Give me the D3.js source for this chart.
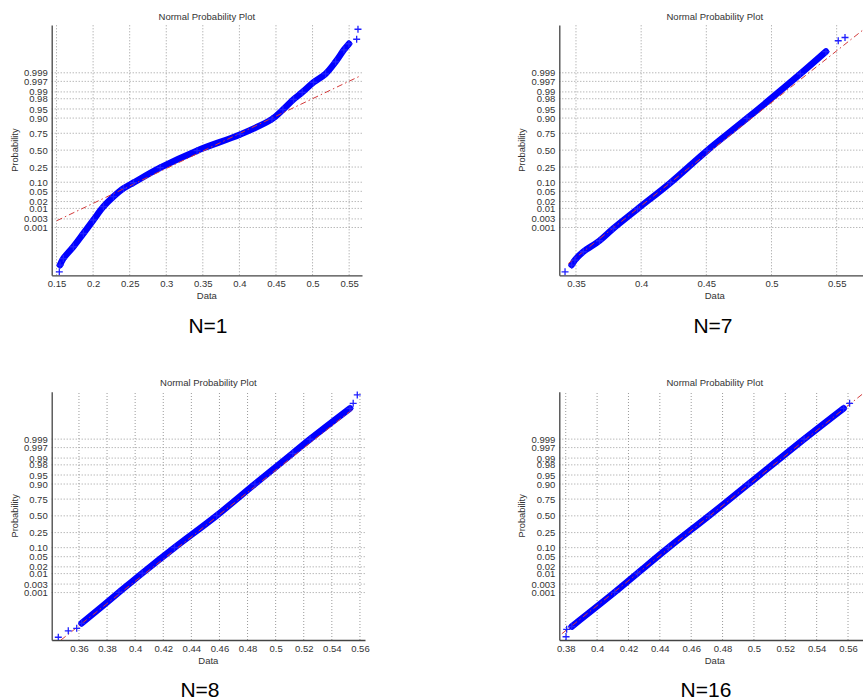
<!DOCTYPE html>
<html><head><meta charset="utf-8">
<script src="https://cdn.jsdelivr.net/npm/d3@7"></script>
<style>
body{margin:0;background:#fff;}
text{font-family:Arial,"Liberation Sans",sans-serif;}
</style>
</head><body>
<svg id="chart" width="863" height="700"></svg>
<script>
// ---- data ----
const probTicks  = [0.001,0.003,0.01,0.02,0.05,0.10,0.25,0.50,0.75,0.90,0.95,0.98,0.99,0.997,0.999];
const probLabels = ["0.001","0.003","0.01","0.02","0.05","0.10","0.25","0.50","0.75","0.90","0.95","0.98","0.99","0.997","0.999"];

const xTicksN1  = [0.15,0.2,0.25,0.3,0.35,0.4,0.45,0.5,0.55];
const xLabelsN1 = ["0.15","0.2","0.25","0.3","0.35","0.4","0.45","0.5","0.55"];
const xTicksN7  = [0.35,0.4,0.45,0.5,0.55];
const xLabelsN7 = ["0.35","0.4","0.45","0.5","0.55"];
const xTicksN8  = [0.36,0.38,0.4,0.42,0.44,0.46,0.48,0.5,0.52,0.54,0.56];
const xLabelsN8 = ["0.36","0.38","0.4","0.42","0.44","0.46","0.48","0.5","0.52","0.54","0.56"];
const xTicksN16  = [0.38,0.4,0.42,0.44,0.46,0.48,0.5,0.52,0.54,0.56];
const xLabelsN16 = ["0.38","0.4","0.42","0.44","0.46","0.48","0.5","0.52","0.54","0.56"];

// sample values (Data) and their normal-quantile positions on the probability axis (z units)
const dataN1  = [0.1538,0.1548,0.1593,0.1730,0.1867,0.2004,0.2141,0.2278,0.2415,0.2552,0.2918,0.3421,0.4014,0.4445,0.4595,0.4740,0.4859,0.5014,0.5178,0.5315,0.5429,0.5497,0.5603,0.5621];
const zN1     = [-4.86,-4.59,-4.33,-3.86,-3.33,-2.79,-2.26,-1.86,-1.53,-1.30,-0.70,-0.02,0.63,1.24,1.62,2.03,2.31,2.71,3.05,3.53,4.01,4.25,4.43,4.83];
const dataN7  = [0.3416,0.3467,0.3492,0.3556,0.3680,0.3786,0.3972,0.4225,0.4505,0.4812,0.5222,0.5418,0.5512,0.5564];
const zN7     = [-4.86,-4.59,-4.39,-4.06,-3.62,-3.13,-2.35,-1.30,-0.02,1.27,3.05,3.94,4.37,4.50];
const dataN8  = [0.3453,0.3524,0.3584,0.3619,0.3885,0.4050,0.4280,0.4580,0.4852,0.5122,0.5245,0.5529,0.5552,0.5581];
const zN8     = [-4.89,-4.63,-4.53,-4.33,-3.08,-2.31,-1.28,0.01,1.28,2.52,3.09,4.33,4.53,4.87];
const dataN16 = [0.3802,0.3806,0.3838,0.4112,0.4258,0.4455,0.4715,0.4965,0.5320,0.5572,0.5610];
const zN16    = [-4.87,-4.57,-4.46,-3.08,-2.31,-1.28,0.01,1.28,3.09,4.33,4.53];

// reference (fit) line endpoints
const fitXN1 = [0.1503,0.5634],  fitZN1 = [-2.82,2.94];
const fitXN7 = [0.3441,0.5704],  fitZN7 = [-4.53,4.81];
const fitXN8 = [0.3472,0.5550],  fitZN8 = [-5.0,4.3];
const fitXN16 = [0.3775,0.5699], fitZN16 = [-4.75,4.94];

const panelNames = ["N=1","N=7","N=8","N=16"];

// ---- layout ----
const panels = [
  {name:panelNames[0], left:51.7, right:362, top:25, bottom:275.3, xd:[0.1434,0.5676], ticks:xTicksN1, labels:xLabelsN1, data:dataN1, z:zN1, trim:[1,2], fx:fitXN1, fz:fitZN1, nx:208, ny:333},
  {name:panelNames[1], left:559.3, right:870.3, top:25, bottom:275.3, xd:[0.3372,0.5758], ticks:xTicksN7, labels:xLabelsN7, data:dataN7, z:zN7, trim:[1,2], fx:fitXN7, fz:fitZN7, nx:713, ny:333},
  {name:panelNames[2], left:51.7, right:365, top:391.7, bottom:640, xd:[0.3406,0.5636], ticks:xTicksN8, labels:xLabelsN8, data:dataN8, z:zN8, trim:[3,2], fx:fitXN8, fz:fitZN8, nx:200, ny:697},
  {name:panelNames[3], left:559.3, right:870.3, top:391.7, bottom:640, xd:[0.3759,0.5742], ticks:xTicksN16, labels:xLabelsN16, data:dataN16, z:zN16, trim:[2,1], fx:fitXN16, fz:fitZN16, nx:706, ny:697}
];

// inverse normal CDF (Acklam) for placing probability ticks
function probit(p){
  const a=[-3.969683028665376e+01,2.209460984245205e+02,-2.759285104469687e+02,1.383577518672690e+02,-3.066479806614716e+01,2.506628277459239e+00];
  const b=[-5.447609879822406e+01,1.615858368580409e+02,-1.556989798598866e+02,6.680131188771972e+01,-1.328068155288572e+01];
  const c=[-7.784894002430293e-03,-3.223964580411365e-01,-2.400758277161838e+00,-2.549732539343734e+00,4.374664141464968e+00,2.938163982698783e+00];
  const d=[7.784695709041462e-03,3.224671290700398e-01,2.445134137142996e+00,3.754408661907416e+00];
  const pl=0.02425, ph=1-pl; let q,r;
  if(p<pl){q=Math.sqrt(-2*Math.log(p));return (((((c[0]*q+c[1])*q+c[2])*q+c[3])*q+c[4])*q+c[5])/((((d[0]*q+d[1])*q+d[2])*q+d[3])*q+1);}
  if(p<=ph){q=p-0.5;r=q*q;return (((((a[0]*r+a[1])*r+a[2])*r+a[3])*r+a[4])*r+a[5])*q/(((((b[0]*r+b[1])*r+b[2])*r+b[3])*r+b[4])*r+1);}
  q=Math.sqrt(-2*Math.log(1-p));return -(((((c[0]*q+c[1])*q+c[2])*q+c[3])*q+c[4])*q+c[5])/((((d[0]*q+d[1])*q+d[2])*q+d[3])*q+1);
}

const svg = d3.select("#chart");
const axisCol = "#444", textCol = "#333", gridCol = "#9a9a9a";

panels.forEach((p,i)=>{
  const x = d3.scaleLinear().domain(p.xd).range([p.left,p.right]);
  const y = d3.scaleLinear().domain([-5,5]).range([p.bottom,p.top]);
  const g = svg.append("g");
  const clipId = "clip"+i;
  g.append("clipPath").attr("id",clipId).append("rect")
    .attr("x",p.left).attr("y",p.top-12).attr("width",p.right-p.left+10).attr("height",p.bottom-p.top+12);

  // grid
  g.append("g").selectAll("line").data(p.ticks).join("line")
    .attr("x1",d=>x(d)).attr("x2",d=>x(d)).attr("y1",p.bottom).attr("y2",p.top)
    .attr("stroke",gridCol).attr("stroke-width",1).attr("stroke-dasharray","1,2");
  g.append("g").selectAll("line").data(probTicks).join("line")
    .attr("x1",p.left).attr("x2",p.right).attr("y1",d=>y(probit(d))).attr("y2",d=>y(probit(d)))
    .attr("stroke",gridCol).attr("stroke-width",1).attr("stroke-dasharray","1,2");

  // axes
  const xa = d3.axisBottom(x).tickValues(p.ticks).tickFormat((d,k)=>p.labels[k]).tickSize(0).tickPadding(5);
  const xg = g.append("g").attr("transform",`translate(0,${p.bottom})`).call(xa);
  const ya = d3.axisLeft(y).tickValues(probTicks.map(probit)).tickFormat((d,k)=>probLabels[k]).tickSize(0).tickPadding(4);
  const yg = g.append("g").attr("transform",`translate(${p.left},0)`).call(ya);
  [xg,yg].forEach(a=>{
    a.select(".domain").attr("stroke",axisCol).attr("stroke-width",1.3);
    a.selectAll("text").attr("fill",textCol).style("font-size","9.5px").style("font-family","Arial,'Liberation Sans',sans-serif");
  });

  // titles
  g.append("text").attr("x",(p.left+p.right)/2).attr("y",p.top-5.5).attr("text-anchor","middle")
    .attr("fill",textCol).style("font-size","9.5px").text("Normal Probability Plot");
  g.append("text").attr("x",(p.left+p.right)/2).attr("y",p.bottom+23.5).attr("text-anchor","middle")
    .attr("fill",textCol).style("font-size","9.5px").text("Data");
  g.append("text").attr("transform",`translate(${p.left-34},${(p.top+p.bottom)/2}) rotate(-90)`).attr("text-anchor","middle")
    .attr("fill",textCol).style("font-size","9.3px").text("Probability");

  const pts = p.data.map((v,k)=>[v,p.z[k]]);
  const plot = g.append("g").attr("clip-path",`url(#${clipId})`);

  // blue band of markers
  const band = pts.slice(p.trim[0], pts.length-p.trim[1]);
  plot.append("path").datum(band)
    .attr("d",d3.line().curve(d3.curveCatmullRom.alpha(0.5)).x(d=>x(d[0])).y(d=>y(d[1])))
    .attr("fill","none").attr("stroke","#0000ff").attr("stroke-width",6.5).attr("stroke-linejoin","round").attr("stroke-linecap","round");

  // fit line
  plot.append("path").datum(p.fx.map((v,k)=>[v,p.fz[k]]))
    .attr("d",d3.line().x(d=>x(d[0])).y(d=>y(d[1])))
    .attr("fill","none").attr("stroke","#d23a3a").attr("stroke-width",1).attr("stroke-dasharray","6,3,1.5,3");

  // + markers
  const s = 3.5;
  plot.append("g").selectAll("path").data(pts).join("path")
    .attr("d",d=>{const cx=x(d[0]),cy=y(d[1]);return `M${cx-s},${cy}H${cx+s}M${cx},${cy-s}V${cy+s}`;})
    .attr("stroke","#2020ff").attr("stroke-width",1.3).attr("fill","none");

  // panel caption
  svg.append("text").attr("x",p.nx).attr("y",p.ny).attr("text-anchor","middle")
    .attr("fill","#000").style("font-size","21px").text(p.name);
});
</script>
</body></html>
